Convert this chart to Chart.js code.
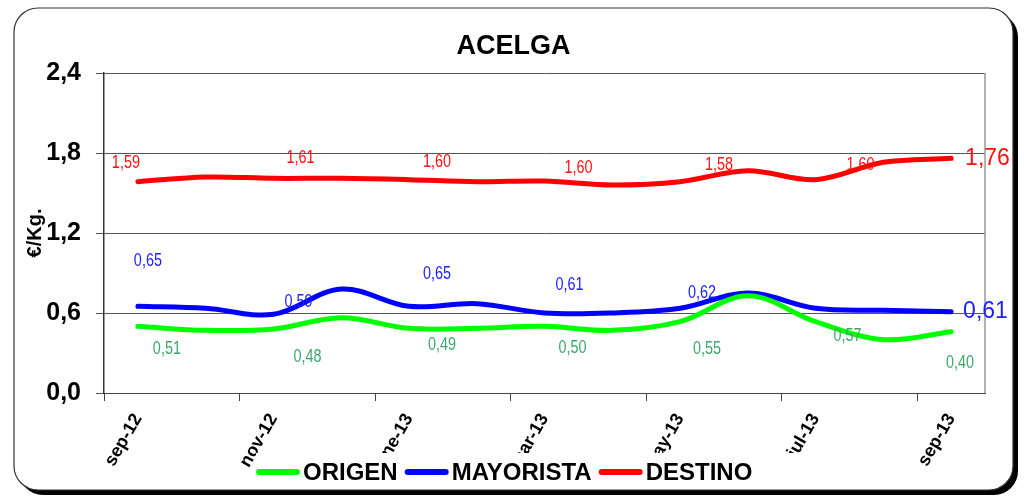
<!DOCTYPE html>
<html>
<head>
<meta charset="utf-8">
<script src="https://cdn.jsdelivr.net/npm/chart.js@4.4.0/dist/chart.umd.min.js"></script>
<style>
  body { margin: 0; background: #fff; }
</style>
</head>
<body>
<canvas id="acelga" width="1029" height="501"></canvas>
<script>
// Datos
const meses = ['sep-12','oct-12','nov-12','dic-12','ene-13','feb-13','mar-13','abr-13','may-13','jun-13','jul-13','ago-13','sep-13'];
const origen    = [0.50, 0.47, 0.48, 0.565, 0.485, 0.485, 0.50, 0.47, 0.535, 0.73, 0.535, 0.40, 0.46];
const mayorista = [0.65, 0.635, 0.59, 0.78, 0.65, 0.67, 0.60, 0.60, 0.635, 0.75, 0.635, 0.62, 0.61];
const destino   = [1.585, 1.62, 1.61, 1.61, 1.60, 1.585, 1.59, 1.56, 1.585, 1.667, 1.60, 1.73, 1.76];

// Etiquetas de valor que aparecen en el grafico
const etiqOrigen    = ['0,51', null, '0,48', null, '0,49', null, '0,50', null, '0,55', null, '0,57', null, '0,40'];
const etiqMayorista = ['0,65', null, '0,59', null, '0,65', null, '0,61', null, '0,62', null, null, null, '0,61'];
const etiqDestino   = ['1,59', null, '1,61', null, '1,60', null, '1,60', null, '1,58', null, '1,60', null, '1,76'];

const yTicks = [0, 0.6, 1.2, 1.8, 2.4];

// Marco redondeado con sombra
const marcoPlugin = {
    id: 'marco',
    beforeDraw(chart) {
        const c = chart.ctx;
        c.save();
        c.fillStyle = '#000';
        c.beginPath();
        c.roundRect(19, 13, 999, 482, 24);
        c.fill();
        c.fillStyle = '#fff';
        c.strokeStyle = '#333';
        c.lineWidth = 1.2;
        c.beginPath();
        c.roundRect(14, 8, 999, 482, 24);
        c.fill();
        c.stroke();
        c.restore();
    },
    beforeDatasetsDraw(chart) {
        const c = chart.ctx, a = chart.chartArea;
        c.save();
        c.strokeStyle = '#999';
        c.lineWidth = 1.5;
        c.beginPath();
        c.moveTo(a.right, a.top);
        c.lineTo(a.right, a.bottom);
        c.stroke();
        c.restore();
    }
};

// Etiquetas de datos
const etiquetasPlugin = {
    id: 'etiquetas',
    afterDatasetsDraw(chart, args, opts) {
        const c = chart.ctx;
        opts.series.forEach((s, di) => {
            const meta = chart.getDatasetMeta(di);
            s.textos.forEach((t, i) => {
                if (!t) return;
                const p = meta.data[i];
                const off = s.offsets[i] || [0, 0];
                const grande = s.grandeUltimo && i === s.textos.length - 1;
                c.save();
                c.fillStyle = s.color;
                c.textBaseline = 'middle';
                if (grande) {
                    c.font = '23px "Liberation Sans", Arial, sans-serif';
                    c.textAlign = 'left';
                    c.fillText(t, p.x + off[0], p.y + off[1]);
                } else {
                    // letra estrecha: Liberation Sans comprimida
                    c.font = '18px "Liberation Sans", Arial, sans-serif';
                    c.textAlign = 'center';
                    c.translate(p.x + off[0], p.y + off[1]);
                    c.scale(0.8, 1);
                    c.fillText(t, 0, 0);
                }
                c.restore();
            });
        });
    }
};

// Leyenda con fondo blanco (tapa parte de las etiquetas del eje)
const leyendaPlugin = {
    id: 'leyenda',
    afterDraw(chart) {
        const c = chart.ctx;
        c.save();
        c.fillStyle = '#fff';
        c.fillRect(256, 453, 575, 35);
        c.font = 'bold 24px "Liberation Sans", Arial, sans-serif';
        c.textBaseline = 'middle';
        c.textAlign = 'left';
        let x = 259;
        const y = 472;
        chart.data.datasets.forEach(ds => {
            c.strokeStyle = ds.borderColor;
            c.lineWidth = 6;
            c.lineCap = 'round';
            c.beginPath();
            c.moveTo(x, y);
            c.lineTo(x + 38, y);
            c.stroke();
            c.fillStyle = '#000';
            c.fillText(ds.label, x + 44, y + 1);
            x += 44 + c.measureText(ds.label).width + 10;
        });
        c.restore();
    }
};

const ctxAcelga = document.getElementById('acelga');
const acelga = new Chart(ctxAcelga, {
    type: 'line',
    data: {
        labels: meses,
        datasets: [
            { label: 'ORIGEN', data: origen, borderColor: '#00ff00' },
            { label: 'MAYORISTA', data: mayorista, borderColor: '#0000ff' },
            { label: 'DESTINO', data: destino, borderColor: '#ff0000' }
        ]
    },
    options: {
        responsive: false,
        animation: false,
        devicePixelRatio: 1,
        layout: { padding: { left: 42, right: 44, top: 12, bottom: 0 } },
        elements: {
            line: { borderWidth: 5, tension: 0.35, borderCapStyle: 'round', borderJoinStyle: 'round' },
            point: { radius: 0 }
        },
        scales: {
            x: {
                offset: true,
                afterFit: s => { s.height = 108; },
                grid: {
                    offset: true,
                    drawOnChartArea: false,
                    tickLength: 8,
                    tickColor: ctx => (ctx.index % 2 === 0 ? '#444' : 'rgba(0,0,0,0)')
                },
                border: { color: '#444', width: 1 },
                ticks: {
                    autoSkip: false,
                    minRotation: 60,
                    maxRotation: 60,
                    padding: 9,
                    color: '#000',
                    font: { family: '"Liberation Sans", Arial, sans-serif', size: 18, weight: 'bold' },
                    callback: function (v, i) { return i % 2 === 0 ? meses[i] : ''; }
                }
            },
            y: {
                min: 0,
                max: 2.4,
                afterFit: s => { s.width = 62; },
                afterBuildTicks: s => { s.ticks = yTicks.map(v => ({ value: v })); },
                grid: { color: '#555', tickColor: '#555', tickLength: 8, lineWidth: 1 },
                border: { color: '#333', width: 1.5 },
                ticks: {
                    padding: 15,
                    color: '#000',
                    font: { family: '"Liberation Sans", Arial, sans-serif', size: 25, weight: 'bold' },
                    callback: v => v.toFixed(1).replace('.', ',')
                },
                title: {
                    display: true,
                    text: '€/Kg.',
                    color: '#000',
                    padding: { top: -19, bottom: 0 },
                    font: { family: '"Liberation Sans", Arial, sans-serif', size: 20, weight: 'bold' }
                }
            }
        },
        plugins: {
            legend: { display: false },
            tooltip: { enabled: false },
            title: {
                display: true,
                text: 'ACELGA',
                color: '#000',
                padding: { top: 18, bottom: 10.6 },
                font: { family: '"Liberation Sans", Arial, sans-serif', size: 27, weight: 'bold' }
            },
            etiquetas: {
                series: [
                    { textos: etiqOrigen, color: '#3ca86a', grandeUltimo: false,
                      offsets: { 0: [29, 23], 2: [34, 28], 4: [33, 17], 6: [28, 22], 8: [27, 27], 10: [32, 14], 12: [9, 31] } },
                    { textos: etiqMayorista, color: '#2020ff', grandeUltimo: true,
                      offsets: { 0: [10, -45], 2: [25, -12], 4: [28, -32], 6: [25, -28], 8: [22, -15], 12: [12, 0] } },
                    { textos: etiqDestino, color: '#ff1010', grandeUltimo: true,
                      offsets: { 0: [-12, -19], 2: [27, -20], 4: [28, -18], 6: [34, -13], 8: [39, -17], 10: [45, -15], 12: [14, 0] } }
                ]
            }
        }
    },
    plugins: [marcoPlugin, etiquetasPlugin, leyendaPlugin]
});
</script>
</body>
</html>
